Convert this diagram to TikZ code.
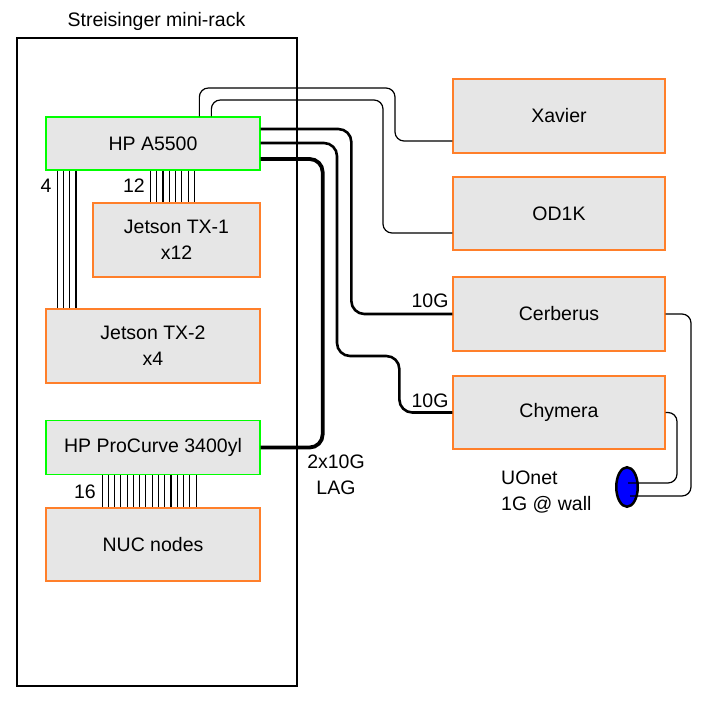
\documentclass[tikz,border=0pt]{standalone}
\usepackage{fontspec}
\setmainfont{Liberation Sans}
\usetikzlibrary{calc,shapes.geometric}
\definecolor{boxfill}{HTML}{E6E6E6}
\definecolor{orangeb}{HTML}{FF7F2A}
\definecolor{greenb}{HTML}{00FF00}
\begin{document}
\begin{tikzpicture}[x=1pt,y=-1pt,
  font=\fontsize{19.5}{26}\selectfont,
  orangebox/.style={draw=orangeb, line width=1.3pt, fill=boxfill, align=center, inner sep=0pt},
  greenbox/.style={draw=greenb, line width=1.3pt, fill=boxfill, align=center, inner sep=0pt},
  rackbox/.style={draw=black, line width=1.3pt, inner sep=0pt},
  thinlink/.style={draw=black, line width=1.2pt, rounded corners=9pt},
  thicklink/.style={draw=black, line width=2.6pt, rounded corners=13pt},
  laglink/.style={draw=black, line width=3.8pt, rounded corners=13pt},
  bundleline/.style={draw=black, line width=1.1pt},
  lbl/.style={inner sep=0pt}]
\useasboundingbox (0,0) rectangle (708,711);

% rack
\node[rackbox, minimum width=280, minimum height=648] (rack) at (157,362) {};
\node[lbl] (title) at (156.5,21) {Streisinger mini-rack};

% boxes
\node[greenbox, minimum width=214, minimum height=53] (a5500) at (153,143.5) {HP A5500};
\node[orangebox, minimum width=167, minimum height=74] (tx1) at (176.5,240) {Jetson TX-1\\x12};
\node[orangebox, minimum width=214, minimum height=74] (tx2) at (153,346) {Jetson TX-2\\x4};
\node[greenbox, minimum width=214, minimum height=54] (procurve) at (153,447.5) {HP ProCurve 3400yl};
\node[orangebox, minimum width=214, minimum height=73] (nuc) at (153,544.5) {NUC nodes};

\node[orangebox, minimum width=212, minimum height=74] (xavier) at (559,116) {Xavier};
\node[orangebox, minimum width=212, minimum height=73] (od1k) at (559,213.5) {OD1K};
\node[orangebox, minimum width=212, minimum height=74] (cerberus) at (559,314) {Cerberus};
\node[orangebox, minimum width=212, minimum height=73] (chymera) at (559,412.5) {Chymera};

\node[ellipse, draw=black, line width=2.5pt, fill=blue, minimum width=21.5, minimum height=39.5, inner sep=0pt] (uonet) at (627,487) {};

% bundles
\foreach \i in {0,...,3}
  \draw[bundleline] ($(a5500.south west)+(11.7+6.33*\i,0)$) -- ($(tx2.north west)+(11.7+6.33*\i,0)$);
\foreach \i in {0,...,7}
  \draw[bundleline] ($(a5500.south west)+(105+6.3*\i,0)$) -- ($(tx1.north west)+(58+6.3*\i,0)$);
\foreach \i in {0,...,15}
  \draw[bundleline] ($(procurve.south west)+(56.7+6.27*\i,0)$) -- ($(nuc.north west)+(56.7+6.27*\i,0)$);

% links from A5500
\draw[thinlink] ($(a5500.north west)+(154,0)$) |- (395,88) |- ($(xavier.west)+(0,25)$);
\draw[thinlink] ($(a5500.north west)+(166,0)$) |- (383,100) |- ($(od1k.west)+(0,19.5)$);
\draw[thicklink] ($(a5500.east)+(0,-14.5)$) -| ($(cerberus.west)+(-101,0)$) -- (cerberus.west);
\draw[thicklink] ($(a5500.east)+(0,-0.5)$) -| (337,356) -| ($(chymera.west)+(-53,0)$) -- (chymera.west);
\draw[laglink] ($(a5500.east)+(0,15.5)$) -| ($(procurve.east)+(62,0)$) -- (procurve.east);

% uplinks to UOnet
\coordinate (uA) at ($(uonet.center)+(3,9)$);
\coordinate (uB) at ($(uonet.center)+(1,-4)$);
\draw[thinlink] (cerberus.east) -| ($(uA)+(61,0)$) -- (uA);
\draw[thinlink] (chymera.east) -| ($(uB)+(49,0)$) -- (uB);

% labels
\node[lbl] (n4) at (46,186) {4};
\node[lbl] (n12) at (134,186) {12};
\node[lbl] (n16) at (85,492) {16};
\node[lbl] (g1) at (430,301) {10G};
\node[lbl] (g2) at (430,401) {10G};
\node[lbl, align=center] (lag) at (336,475) {2x10G\\LAG};
\node[lbl, align=left, anchor=west] (uolbl) at (501,492.5) {UOnet\\1G @ wall};
\end{tikzpicture}
\end{document}
